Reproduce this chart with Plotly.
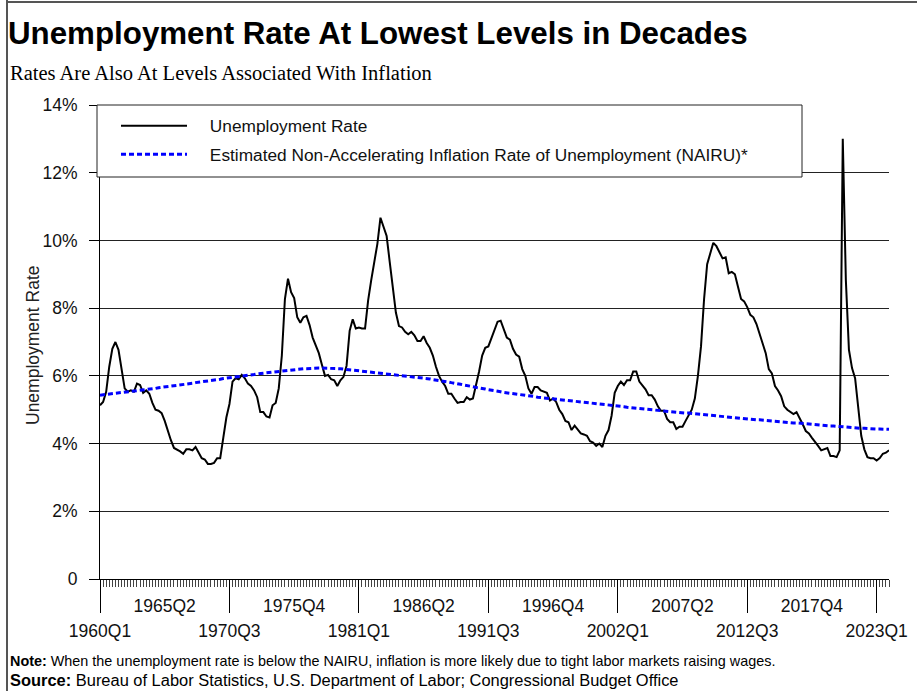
import plotly.graph_objects as go

# ---------------- data ----------------
QUARTERS = [f"{y}Q{q}" for y in range(1960, 2025) for q in (1, 2, 3, 4)][:257]

UNEMPLOYMENT = [
    5.13, 5.23, 5.53, 6.27,   6.80, 7.00, 6.77, 6.20,   5.63, 5.53, 5.57, 5.53,   5.77, 5.73, 5.50, 5.57,
    5.47, 5.20, 5.00, 4.97,   4.90, 4.67, 4.37, 4.10,   3.87, 3.83, 3.77, 3.70,   3.83, 3.83, 3.80, 3.90,
    3.73, 3.57, 3.53, 3.40,   3.40, 3.43, 3.57, 3.57,   4.17, 4.77, 5.17, 5.83,   5.93, 5.90, 6.03, 5.93,
    5.77, 5.70, 5.57, 5.37,   4.93, 4.93, 4.80, 4.77,   5.13, 5.20, 5.63, 6.60,   8.27, 8.87, 8.47, 8.30,
    7.73, 7.57, 7.73, 7.77,   7.50, 7.13, 6.90, 6.67,   6.33, 6.00, 6.03, 5.90,   5.87, 5.70, 5.87, 5.97,
    6.30, 7.33, 7.67, 7.40,   7.43, 7.40, 7.40, 8.23,   8.83, 9.43, 9.90, 10.67,  10.37, 10.13, 9.37, 8.53,
    7.87, 7.47, 7.43, 7.30,   7.23, 7.30, 7.20, 7.03,   7.03, 7.17, 6.97, 6.83,   6.60, 6.27, 6.00, 5.83,
    5.70, 5.47, 5.47, 5.33,   5.20, 5.23, 5.23, 5.37,   5.30, 5.33, 5.70, 6.13,   6.60, 6.83, 6.87, 7.10,
    7.37, 7.60, 7.63, 7.37,   7.13, 7.07, 6.80, 6.63,   6.57, 6.20, 6.00, 5.63,   5.47, 5.67, 5.67, 5.57,
    5.53, 5.50, 5.27, 5.33,   5.23, 5.00, 4.87, 4.67,   4.63, 4.40, 4.53, 4.43,   4.30, 4.27, 4.23, 4.07,
    4.03, 3.93, 4.00, 3.90,   4.23, 4.40, 4.83, 5.50,   5.70, 5.83, 5.73, 5.87,   5.87, 6.13, 6.13, 5.83,
    5.70, 5.60, 5.43, 5.43,   5.30, 5.10, 4.97, 4.97,   4.73, 4.63, 4.63, 4.43,   4.50, 4.50, 4.67, 4.83,
    5.00, 5.33, 6.00, 6.87,   8.27, 9.30, 9.63, 9.93,   9.83, 9.63, 9.47, 9.50,   9.03, 9.07, 9.00, 8.63,
    8.27, 8.20, 8.03, 7.80,   7.73, 7.53, 7.23, 6.93,   6.67, 6.20, 6.07, 5.70,   5.57, 5.40, 5.10, 5.00,
    4.93, 4.87, 4.93, 4.77,   4.57, 4.37, 4.30, 4.17,   4.03, 3.93, 3.80, 3.83,   3.87, 3.63, 3.63, 3.60,
    3.80, 13.00, 8.83, 6.77,  6.23, 5.93, 5.07, 4.23,   3.83, 3.60, 3.57, 3.57,   3.50, 3.57, 3.70, 3.73,
    3.80,
]

NAIRU = [
    5.43, 5.44, 5.45, 5.47,   5.48, 5.49, 5.50, 5.51,   5.52, 5.53, 5.54, 5.55,   5.56, 5.57, 5.58, 5.60,
    5.61, 5.62, 5.63, 5.65,   5.66, 5.67, 5.68, 5.70,   5.71, 5.72, 5.73, 5.75,   5.76, 5.77, 5.78, 5.80,
    5.81, 5.82, 5.83, 5.85,   5.86, 5.87, 5.89, 5.90,   5.92, 5.93, 5.94, 5.96,   5.97, 5.98, 5.99, 6.01,
    6.02, 6.03, 6.04, 6.06,   6.07, 6.08, 6.09, 6.11,   6.12, 6.13, 6.14, 6.16,   6.17, 6.18, 6.18, 6.19,
    6.20, 6.20, 6.21, 6.21,   6.22, 6.22, 6.22, 6.23,   6.23, 6.23, 6.23, 6.23,   6.22, 6.22, 6.21, 6.20,
    6.19, 6.18, 6.17, 6.16,   6.15, 6.14, 6.13, 6.12,   6.11, 6.10, 6.09, 6.08,   6.07, 6.06, 6.05, 6.04,
    6.03, 6.02, 6.01, 6.00,   5.99, 5.98, 5.97, 5.96,   5.95, 5.94, 5.92, 5.91,   5.89, 5.88, 5.86, 5.85,
    5.83, 5.82, 5.80, 5.79,   5.77, 5.75, 5.73, 5.72,   5.70, 5.68, 5.66, 5.65,   5.63, 5.61, 5.59, 5.58,
    5.56, 5.54, 5.53, 5.51,   5.50, 5.49, 5.47, 5.46,   5.45, 5.44, 5.42, 5.41,   5.40, 5.39, 5.37, 5.36,
    5.35, 5.34, 5.33, 5.32,   5.31, 5.30, 5.29, 5.28,   5.27, 5.26, 5.25, 5.25,   5.24, 5.23, 5.22, 5.22,
    5.21, 5.20, 5.19, 5.17,   5.16, 5.15, 5.14, 5.12,   5.11, 5.10, 5.09, 5.07,   5.06, 5.05, 5.04, 5.03,
    5.02, 5.01, 5.00, 5.00,   4.99, 4.98, 4.97, 4.96,   4.95, 4.94, 4.93, 4.93,   4.92, 4.91, 4.90, 4.90,
    4.89, 4.88, 4.87, 4.86,   4.85, 4.84, 4.83, 4.82,   4.81, 4.80, 4.79, 4.79,   4.78, 4.77, 4.76, 4.75,
    4.74, 4.73, 4.73, 4.72,   4.71, 4.70, 4.70, 4.69,   4.68, 4.67, 4.67, 4.66,   4.65, 4.64, 4.64, 4.63,
    4.62, 4.61, 4.61, 4.60,   4.59, 4.58, 4.58, 4.57,   4.56, 4.55, 4.55, 4.54,   4.53, 4.52, 4.52, 4.51,
    4.50, 4.49, 4.49, 4.48,   4.47, 4.46, 4.46, 4.45,   4.45, 4.44, 4.44, 4.43,   4.43, 4.43, 4.42, 4.42,
    4.42,
]

UPPER_TICKS = ["1965Q2", "1975Q4", "1986Q2", "1996Q4", "2007Q2", "2017Q4"]
LOWER_TICKS = ["1960Q1", "1970Q3", "1981Q1", "1991Q3", "2002Q1", "2012Q3", "2023Q1"]
Y_TICKS = [0, 2, 4, 6, 8, 10, 12, 14]
Y_TICK_TEXT = ["0", "2%", "4%", "6%", "8%", "10%", "12%", "14%"]

TITLE = "Unemployment Rate At Lowest Levels in Decades"
SUBTITLE = "Rates Are Also At Levels Associated With Inflation"
Y_TITLE = "Unemployment Rate"
NOTE = "<b>Note:</b> When the unemployment rate is below the NAIRU, inflation is more likely due to tight labor markets raising wages."
SOURCE = "<b>Source:</b> Bureau of Labor Statistics, U.S. Department of Labor; Congressional Budget Office"
SERIES_NAMES = ["Unemployment Rate",
                "Estimated Non-Accelerating Inflation Rate of Unemployment (NAIRU)*"]

# ---------------- layout geometry ----------------
W, H = 917, 691
L, R, T, B = 100, 28, 105, 112
PW, PH = W - L - R, H - T - B


def xp(px):
    return (px - L) / PW


def yp(py):
    return (H - B - py) / PH


SANS = "Liberation Sans, Arial, sans-serif"
SERIF = "Liberation Serif, Times New Roman, serif"
PAD = "\u00a0\u00a0\u00a0\u2009"

xs = list(range(len(QUARTERS)))

fig = go.Figure()
fig.add_trace(go.Scatter(
    x=xs, y=UNEMPLOYMENT, mode="lines", name=PAD + SERIES_NAMES[0],
    line=dict(color="black", width=2), customdata=QUARTERS,
    hovertemplate="%{customdata}: %{y:.1f}%<extra></extra>", legendgroup="a",
))
fig.add_trace(go.Scatter(
    x=xs, y=NAIRU, mode="lines", xaxis="x2", yaxis="y",
    name=PAD + SERIES_NAMES[1],
    line=dict(color="#0000ff", width=3, dash="5px,3px"), customdata=QUARTERS,
    hovertemplate="%{customdata}: %{y:.2f}%<extra></extra>", legendgroup="b",
))

xrange = [0, len(QUARTERS) - 1]
TICKFONT = dict(family=SANS, size=17.5, color="#111")

fig.update_layout(
    width=W, height=H,
    margin=dict(l=L, r=R, t=T, b=B, autoexpand=False),
    paper_bgcolor="white", plot_bgcolor="white",
    font=dict(family=SANS, size=14, color="#111"),
    showlegend=True,
    legend=dict(
        x=xp(116), y=yp(108), xanchor="left", yanchor="top",
        bgcolor="rgba(0,0,0,0)", borderwidth=0,
        font=dict(family=SANS, size=17.3, color="#111"),
        itemwidth=66, tracegroupgap=3,
    ),
    xaxis=dict(
        range=xrange, showgrid=False, zeroline=False, automargin=False,
        showline=True, linecolor="black", linewidth=1,
        tickmode="array",
        tickvals=[QUARTERS.index(q) for q in UPPER_TICKS],
        ticktext=UPPER_TICKS,
        ticks="outside", ticklen=7, tickcolor="#444", tickwidth=1,
        ticklabelstandoff=4,
        tickfont=TICKFONT,
        minor=dict(dtick=1, tick0=0, ticks="outside", ticklen=7,
                   tickcolor="#444", tickwidth=1, showgrid=False),
    ),
    xaxis2=dict(
        range=xrange, overlaying="x", anchor="y", side="bottom", automargin=False,
        showgrid=False, zeroline=False, showline=False,
        tickmode="array",
        tickvals=[QUARTERS.index(q) for q in LOWER_TICKS],
        ticktext=LOWER_TICKS,
        ticks="outside", ticklen=33, tickcolor="black", tickwidth=1,
        ticklabelstandoff=3,
        tickfont=TICKFONT,
    ),
    yaxis=dict(
        range=[0, 14], tickmode="array", tickvals=Y_TICKS, ticktext=Y_TICK_TEXT,
        showgrid=True, gridcolor="#222", gridwidth=1, zeroline=False, automargin=False,
        showline=True, linecolor="black", linewidth=1,
        ticks="outside", ticklen=10, tickcolor="black",
        ticklabelstandoff=8,
        tickfont=TICKFONT,
    ),
    annotations=[
        dict(text="<b>" + TITLE + "</b>", xref="paper", yref="paper", x=xp(6), y=yp(33),
             xanchor="left", yanchor="middle", showarrow=False,
             font=dict(family=SANS, size=31.3, color="black")),
        dict(text=SUBTITLE, xref="paper", yref="paper", x=xp(8), y=yp(73),
             xanchor="left", yanchor="middle", showarrow=False,
             font=dict(family=SERIF, size=20.5, color="black")),
        dict(text=Y_TITLE, xref="paper", yref="paper", x=xp(33), y=yp(345),
             xanchor="center", yanchor="middle", showarrow=False, textangle=-90,
             font=dict(family=SANS, size=17.5, color="#222")),
        dict(text=NOTE, xref="paper", yref="paper", x=xp(8), y=yp(661),
             xanchor="left", yanchor="middle", showarrow=False,
             font=dict(family=SANS, size=14.4, color="black")),
        dict(text=SOURCE, xref="paper", yref="paper", x=xp(8), y=yp(680),
             xanchor="left", yanchor="middle", showarrow=False,
             font=dict(family=SANS, size=16.45, color="black")),
    ],
    shapes=[
        dict(type="line", xref="paper", yref="paper", x0=xp(7), x1=xp(7), y0=yp(0), y1=yp(H),
             line=dict(color="#555", width=2)),
        dict(type="line", xref="paper", yref="paper", x0=xp(7), x1=xp(W), y0=yp(2), y1=yp(2),
             line=dict(color="#555", width=2)),
        # legend frame
        dict(type="rect", xref="paper", yref="paper", layer="above",
             x0=xp(97), x1=xp(802), y0=yp(177), y1=yp(105),
             fillcolor="white", line=dict(color="#222", width=1)),
    ],
)

fig.write_html("out.html")
